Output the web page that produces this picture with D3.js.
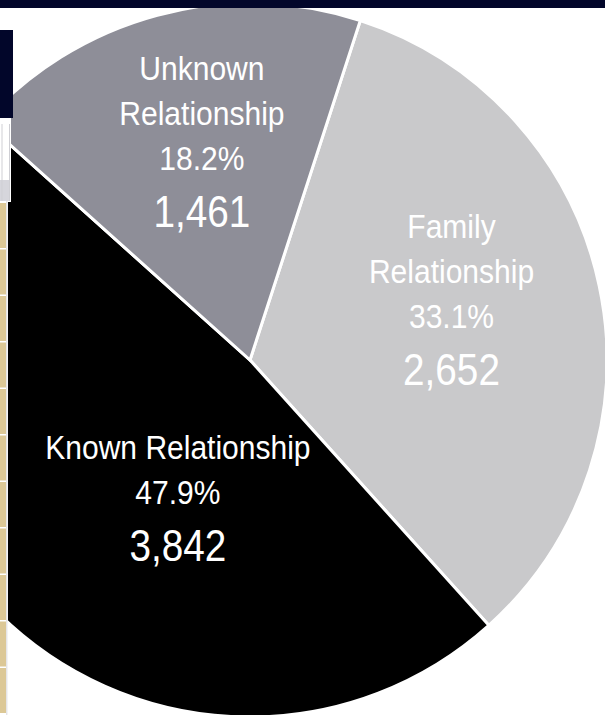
<!DOCTYPE html>
<html>
<head>
<meta charset="utf-8">
<script src="https://cdn.jsdelivr.net/npm/d3@7"></script>
<style>
  html, body { margin: 0; padding: 0; background: #fff; }
  svg { display: block; }
</style>
</head>
<body>
<div id="my_pie"></div>
<script>
// data
var categories = ["Family Relationship", "Known Relationship", "Unknown Relationship"];
var nameLines = [["Family", "Relationship"], ["Known Relationship"], ["Unknown", "Relationship"]];
var counts = [2652, 3842, 1461];
var percents = [33.1, 47.9, 18.2];

var width = 605, height = 715;
var cx = 250, cy = 360, radius = 357;

var svg = d3.select("#my_pie")
  .append("svg")
  .attr("width", width)
  .attr("height", height);

var color = d3.scaleOrdinal()
  .domain(categories)
  .range(["#c9c9cb", "#000000", "#8e8e98"]);

var rad = Math.PI / 180;
var start = 18 * rad;

var rows = categories.map(function (c, i) {
  return { name: c, lines: nameLines[i], count: counts[i], pct: percents[i] };
});

var pie = d3.pie()
  .sort(null)
  .value(function (d) { return d.count; })
  .startAngle(start)
  .endAngle(start + 2 * Math.PI);

var arc = d3.arc().innerRadius(0).outerRadius(radius);

var g = svg.append("g")
  .attr("transform", "translate(" + cx + "," + cy + ")");

g.selectAll("path")
  .data(pie(rows))
  .enter()
  .append("path")
  .attr("d", arc)
  .attr("fill", function (d) { return color(d.data.name); })
  .attr("stroke", "#fff")
  .attr("stroke-width", 3)
  .attr("stroke-linejoin", "miter");

// where each label block sits (polar, degrees clockwise from top) - hand placed like the slide
var labelPlace = {
  "Family Relationship": { r: 204, a: 81 },
  "Known Relationship": { r: 161, a: 206.6 },
  "Unknown Relationship": { r: 196, a: -14.2 }
};

var labels = g.selectAll(".lbl")
  .data(pie(rows))
  .enter()
  .append("g")
  .attr("class", "lbl")
  .attr("transform", function (d) {
    var p = labelPlace[d.data.name];
    var x = p.r * Math.sin(p.a * rad), y = -p.r * Math.cos(p.a * rad);
    return "translate(" + x + "," + y + ")";
  })
  .style("font-family", "'Liberation Sans', Arial, sans-serif")
  .attr("fill", "#fff")
  .attr("text-anchor", "middle");

// the slide font is a bit narrower than Arial, so squeeze horizontally
labels.each(function (d) {
  var el = d3.select(this);
  var n = d.data.lines.length;
  d.data.lines.forEach(function (t, i) {
    el.append("text")
      .attr("transform", "translate(0," + (-45 * (n - i)) + ") scale(0.91,1)")
      .style("font-size", "33px")
      .text(t);
  });
  el.append("text")
    .attr("transform", "scale(0.91,1)")
    .style("font-size", "33px")
    .text(d3.format(".1f")(d.data.pct) + "%");
  el.append("text")
    .attr("transform", "translate(0,57) scale(0.88,1)")
    .style("font-size", "44px")
    .text(d3.format(",")(d.data.count));
});

// slide frame pieces around the crop
svg.append("rect")
  .attr("x", 0).attr("y", 0)
  .attr("width", width).attr("height", 8)
  .attr("fill", "#02062a");

svg.append("rect")
  .attr("x", 0).attr("y", 30)
  .attr("width", 13).attr("height", 88)
  .attr("fill", "#02062a");

svg.append("rect")
  .attr("x", 0).attr("y", 118)
  .attr("width", 11).attr("height", 84)
  .attr("fill", "#fff");

svg.append("rect")
  .attr("x", 0).attr("y", 180)
  .attr("width", 10).attr("height", 21)
  .attr("fill", "#d6d6dc");

[2, 9.5].forEach(function (x) {
  svg.append("line")
    .attr("x1", x).attr("x2", x)
    .attr("y1", 124).attr("y2", 201)
    .attr("stroke", "#cfcfd4")
    .attr("stroke-width", 1);
});

svg.append("rect")
  .attr("x", 0).attr("y", 201)
  .attr("width", 8).attr("height", height - 201)
  .attr("fill", "#fff");

var cellH = 46.5;
svg.selectAll(".cell")
  .data(d3.range(11))
  .enter()
  .append("rect")
  .attr("class", "cell")
  .attr("x", 0)
  .attr("y", function (i) { return 203 + i * cellH; })
  .attr("width", 6)
  .attr("height", cellH - 1.5)
  .attr("fill", "#dcc896");

svg.append("line")
  .attr("x1", 6.8).attr("x2", 6.8)
  .attr("y1", 201).attr("y2", height)
  .attr("stroke", "#d0d0d4")
  .attr("stroke-width", 0.8);
</script>
</body>
</html>
